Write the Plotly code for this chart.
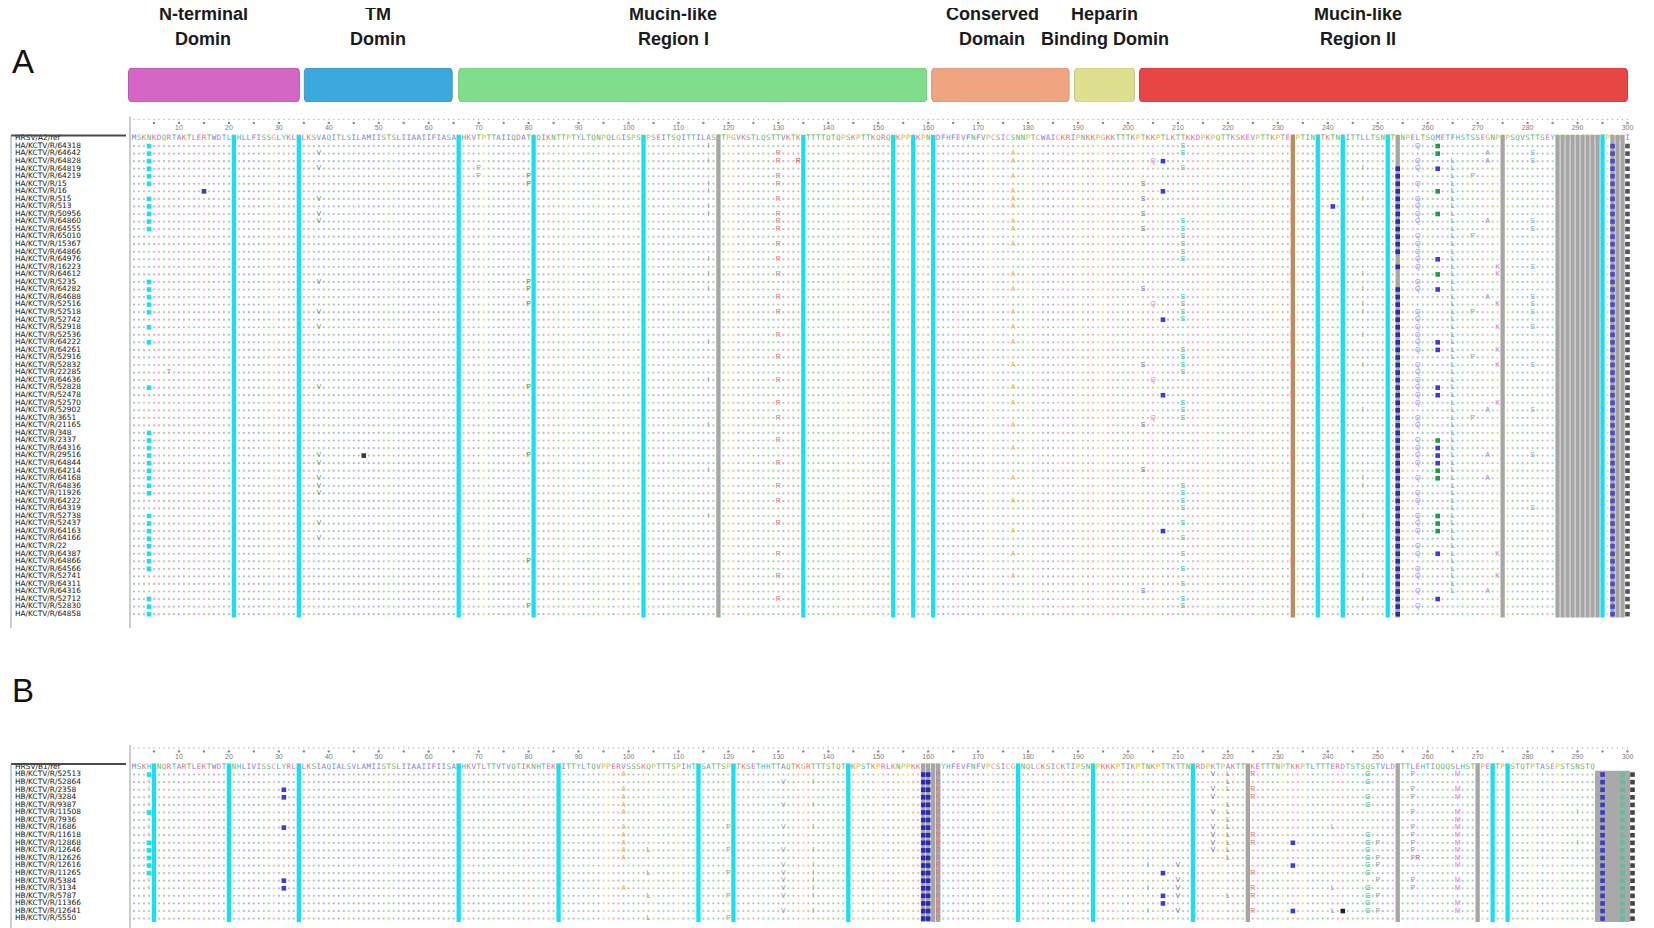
import plotly.graph_objects as go

W, H = 1654, 928

# ---------------------------------------------------------------
# data
# ---------------------------------------------------------------
# consensus sequences (one residue per alignment column)
SEQ_A = ("MSKNKDQRTAKTLERTWDTLNHLLFISSGLYKLNLKSVAQITLSILAMIISTSLIIAAII"
         "FIASANHKVTPTTAIIQDATSQIKNTTPTYLTQNPQLGISPSNPSEITSQITTILASTTP"
         "GVKSTLQSTTVKTKNTTTTQTQPSKPTTKQRQNKPPSKPNNDFHFEVFNFVPCSICSNNP"
         "TCWAICKRIPNKKPGKKTTTKPTKKPTLKTTKKDPKPQTTKSKEVPTTKPTEEPTINTTK"
         "TNIITTLLTSNTTGNPELTSQMETFHSTSSEGNPSPSQVSTTSEYPSQPSSPPNTPRQKI")
SEQ_B = ("MSKHKNQRTARTLEKTWDTLNHLIVISSCLYRLNLKSIAQIALSVLAMIISTSLIIAAII"
         "FIISANHKVTLTTVTVQTIKNHTEKNITTYLTQVPPERVSSSKQPTTTSPIHTNSATTSP"
         "NTKSETHHTTAQTKGRTTTSTQTNKPSTKPRLKNPPKKPKDDYHFEVFNFVPCSICGNNQ"
         "LCKSICKTIPSNKPKKKPTIKPTNKPTTKTTNKRDPKTPAKTTKKETTTNPTKKPTLTTT"
         "ERDTSTSQSTVLDTTTLEHTIQQQSLHSTTPENTPNSTQTPTASEPSTSNSTQ")

A_REF = "HRSV/A2/ref"
A_IDS = ("64318 64642 64828 64819 64219 15 16 515 513 50956 64860 64555 "
         "65010 15367 64866 64976 16223 64612 5235 64282 64688 52516 52518 "
         "52742 52918 52536 64222 64261 52916 52832 22285 64636 52828 52478 "
         "52570 52902 3651 21165 348 2337 64316 29516 64844 64214 64168 "
         "64836 11926 64222 64319 52738 52437 64163 64166 22 64387 64866 "
         "64566 52741 64311 64316 52712 52830 64858")
B_REF = "HRSV/B1/ref"
B_IDS = ("52513 52864 2358 3284 9387 11508 7936 1686 11618 12868 12646 "
         "12626 12616 11265 5384 3134 5787 11366 12641 5550")

# domain annotation (start / end column)
DOMAINS = ["N-terminal<br>Domin", "TM<br>Domin", "Mucin-like<br>Region I",
           "Conserved<br>Domain", "Heparin<br>Binding Domin", "Mucin-like<br>Region II"]
DOM_START = [-0.1, 35.1, 66.0, 160.7, 189.3, 202.3]
DOM_END = [34.1, 64.7, 159.7, 188.2, 201.3, 300.0]
DOM_LABEL_X = [14.9, 49.9, 109.0, 172.8, 195.3, 246.0]
DOM_COLOURS = ["#d466c6", "#3ba9dd", "#80dd8b", "#efa57f", "#dee08f", "#e84545"]
DOM_EDGES = ["#b65aab", "#3596c4", "#72c67c", "#d69372", "#c6c880", "#cf3d3d"]

# highlighted (conserved) columns
A_CYAN = [21, 34, 66, 81, 103, 135, 153, 157, 161, 238, 243, 252, 295]
A_GREY = [118, 254, 275, 286, 287, 288, 289, 290, 291, 292, 293, 294, 297, 298, 299]
A_BROWN = [233]
B_CYAN = [5, 20, 34, 66, 86, 114, 121, 144, 178, 193, 213, 273, 276]
B_GREY = [159, 160, 161, 162, 224, 254, 270]
B_BLOCK = [294, 295, 296, 297, 298, 299, 300]

# substitutions: (column, glyph, colour, rows); "sq" = filled cell
A_VARIANTS = [
    (4, "sq", "#19dff0", "1-6,8-12,19-23,25,27,33,39-47,50-57,61-63"),
    (8, "T", "#9090a8", "31"),
    (15, "sq", "#3a3ad6", "7"),
    (38, "V", "#4fa24f", "2,4,8,10,11,19,23,25,33,42,43,45,46,47,51,53"),
    (47, "sq", "#333333", "42"),
    (70, "P", "#9a9a9a", "4,5"),
    (80, "P", "#2f962f", "5,6,19,20,22,33,42,56,62"),
    (116, "!", "#4c9c4c", "1,3,6,7,9,10,16,18,20,27,32,38,44,50"),
    (130, "R", "#f06c7c", "2,3,5,6,8,10,11,12,14,16,18,21,23,26,29,32,35,37,40,43,46,48,51,55,58,61"),
    (134, "R", "#e04040", "3"),
    (177, "A", "#f0b03c", "2,3,5,7,8,9,11,12,14,18,20,23,25,27,30,33,35,38,41,45,48,52,55,58"),
    (203, "S", "#7070a0", "6,8,10,12,20,30,38,44,60"),
    (205, "Q", "#9a9ae8", "3,22,32,37"),
    (207, "sq", "#3a3ae0", "3,7,24,34,52"),
    (211, "S", "#2fc0a0", "1,2,4,11-16,21-24,28-31,35-37,46-49,51,53,55,57,59,61,62"),
    (233, "R", "#f06c7c", "1,6,8,10,11,13,15,18,19,24,26,27,30,34,42,56"),
    (241, "sq", "#3a3ae0", "9"),
    (247, "!", "#4c9c4c", "4,8,18,20,22,23,26,30,36,45,46,50,58,61"),
    (254, "sq", "#2a2ab8", "4-15,17,20-63"),
    (258, "Q", "#9a8ae0", "1,3,4,6,8-11,13-17,19,20,23-28,30-35,37,38,40-43,45,47,48,50-52,54,55,57,58,60,62"),
    (262, "sq", "#18a048", "1,2,7,10,18,40,44,45,50,51,52"),
    (262, "sq", "#3a3ae0", "4,16,20,27,28,33,34,41,42,43,55,61"),
    (265, "L", "#5aa86a", "3-60"),
    (269, "P", "#9a9a9a", "5,13,23,29,37"),
    (272, "A", "#8c8cd8", "2,3,11,21,36,42,45,60"),
    (274, "K", "#e070c8", "17,18,22,25,28,30,35,55,58"),
    (281, "S", "#80a8e0", "2,3,11,12,17,21,22,23,25,30,36,42,49"),
    (297, "sq", "#4a4ad0", "1-63"),
    (300, "sq", "#555555", "1-63"),
]
B_VARIANTS = [
    (4, "sq", "#19dff0", "1,6,10-14"),
    (4, "^", "#f080e0", "2-5,7-9,15,16"),
    (31, "sq", "#3a3ae0", "3,4,8,15,16"),
    (99, "A", "#f0b03c", "1,3-6,8-12,16"),
    (104, "L", "#9a9a9a", "11,14,17,20"),
    (120, "P", "#9a9a9a", "8,11,14,17,20"),
    (131, "V", "#9a9a9a", "2,5,8,11,13-17,19"),
    (137, "!", "#4c9c4c", "2,5,8,11,13-17,19"),
    (159, "sq", "#2a2ab8", "1-20"),
    (160, "sq", "#2a2ab8", "1-20"),
    (162, "R", "#f06c7c", "1-20"),
    (204, "!", "#4c9c4c", "13,16,19"),
    (207, "sq", "#3a3ae0", "14,17,18"),
    (210, "V", "#7070b0", "13,15,16,17,19"),
    (217, "V", "#6c6cd8", "1,3,4,6,8,9,10,11"),
    (220, "L", "#6a9a6a", "1-3,5-12,17"),
    (225, "R", "#f06c7c", "1,3,4,9,10,14,16,17,19"),
    (233, "sq", "#3a3ae0", "10,13,19"),
    (241, "L", "#9a9a9a", "8,16,19"),
    (243, "sq", "#222222", "19"),
    (248, "G", "#2fb080", "1,2,4,5,9-14,16-19"),
    (250, "P", "#9a9a9a", "10,12,13,15,17,19"),
    (257, "P", "#9a9a9a", "1,3,4,6,8-12,15,16"),
    (258, "R", "#e04040", "12"),
    (266, "M", "#f070f0", "1,3,4,6-13,15,16,18,19"),
    (290, "!", "#4c9c4c", "6,10"),
    (295, "sq", "#3c3cc8", "1-20"),
    (299, "sq", "#5cc0a0", "1-20"),
    (301, "sq", "#444444", "1-20"),
]

# residue colour classes (Clustal style)
CLASS_COLOURS = {
    "AILMFWV": "#7d7de8",
    "KR": "#ee6f6f",
    "DE": "#d56ad5",
    "NQST": "#5fb85f",
    "C": "#ee88aa",
    "G": "#eea040",
    "P": "#c9c23a",
    "HY": "#3fbfbf",
}

# ---------------------------------------------------------------
# geometry (pixels) -> axis ranges
# ---------------------------------------------------------------
COL0_PX, COL_PX = 121.0, 4.995
A_ROW0_PX, A_PITCH = 130.5, 7.55
B_ROW0_PX, B_PITCH = 759.0, 7.58
NAME_PX = 7


def residue_colour(aa):
    for group, colour in CLASS_COLOURS.items():
        if aa in group:
            return colour
    return "#999999"


def parse_rows(spec):
    rows = []
    for part in spec.split(","):
        if "-" in part:
            a, b = part.split("-")
            rows += list(range(int(a), int(b) + 1))
        else:
            rows.append(int(part))
    return rows


def px(x):
    return x / W


def py(y):
    return 1 - y / H


def add_panel(fig, seq, names, n_rows, yaxis, pitch, cyan, grey, brown, variants, block=None):
    base = dict(yaxis=yaxis, hoverinfo="skip", showlegend=False, cliponaxis=False)
    tick_line_row = -19 / pitch
    tick_lab_row = -10 / pitch

    # ruler
    n_cols = 300
    fig.add_trace(go.Scatter(x=list(range(1, n_cols + 1)), y=[tick_line_row] * n_cols,
                             mode="markers", marker=dict(size=1.6, color="#b8b8b8"), **base))
    fives = list(range(5, n_cols + 1, 5))
    fig.add_trace(go.Scatter(x=fives, y=[tick_line_row + 0.45] * len(fives), mode="markers",
                             marker=dict(size=2.4, color="#8a8a8a"), **base))
    tens = list(range(10, n_cols + 1, 10))
    fig.add_trace(go.Scatter(x=tens, y=[tick_lab_row] * len(tens), mode="text",
                             text=[str(t) for t in tens],
                             textfont=dict(size=7, color="#7a7a7a", family="Liberation Sans"),
                             **base))

    # identity dots
    groups = {}
    for c, aa in enumerate(seq, start=1):
        groups.setdefault(residue_colour(aa), []).append(c)
    for colour, cols in groups.items():
        xs, ys = [], []
        for r in range(1, n_rows + 1):
            xs += cols
            ys += [r] * len(cols)
        fig.add_trace(go.Scatter(x=xs, y=ys, mode="markers",
                                 marker=dict(size=2.2, color=colour, opacity=0.6), **base))

    # consensus row
    fig.add_trace(go.Scatter(x=list(range(1, len(seq) + 1)), y=[0] * len(seq), mode="text",
                             text=list(seq),
                             textfont=dict(size=7.5, family="DejaVu Sans Mono",
                                           color=[residue_colour(a) for a in seq]),
                             **base))

    # highlighted columns
    def columns(cols, colour, top, bottom, width=4.3):
        xs, ys = [], []
        for c in cols:
            xs += [c, c, None]
            ys += [top, bottom, None]
        fig.add_trace(go.Scatter(x=xs, y=ys, mode="lines",
                                 line=dict(color=colour, width=width), **base))

    columns(grey, "#a6a6a6", -0.45, n_rows + 0.45)
    columns(brown, "#b88f5c", -0.45, n_rows + 0.45)
    columns(cyan, "#19dff0", -0.45, n_rows + 0.45)
    if block:
        columns(block, "#a9a9a9", 0.5, n_rows + 0.45, width=5.2)

    # substitutions
    for col, glyph, colour, spec in variants:
        rows = parse_rows(spec)
        if glyph == "sq":
            fig.add_trace(go.Scatter(x=[col] * len(rows), y=rows, mode="markers",
                                     marker=dict(symbol="square", size=4.6, color=colour),
                                     **base))
        else:
            fig.add_trace(go.Scatter(x=[col] * len(rows), y=rows, mode="text",
                                     text=[glyph] * len(rows),
                                     textfont=dict(size=7, color=colour, family="Liberation Sans"),
                                     **base))

    # sequence names
    name_x = (NAME_PX - COL0_PX) / COL_PX
    fig.add_trace(go.Scatter(x=[name_x] * len(names), y=list(range(len(names))), mode="text",
                             text=names, textposition="middle right",
                             textfont=dict(size=7.4, color="#141414", family="DejaVu Sans"),
                             **base))


fig = go.Figure()

a_names = [A_REF] + [f"HA/KCTV/R/{n}" for n in A_IDS.split()]
b_names = [B_REF] + [f"HB/KCTV/R/{n}" for n in B_IDS.split()]
add_panel(fig, SEQ_A, a_names, len(a_names) - 1, "y", A_PITCH,
          A_CYAN, A_GREY, A_BROWN, A_VARIANTS)
add_panel(fig, SEQ_B, b_names, len(b_names) - 1, "y2", B_PITCH,
          B_CYAN, B_GREY, [], B_VARIANTS, block=B_BLOCK)

# domain bars
fig.add_trace(go.Bar(
    x=[e - s for s, e in zip(DOM_START, DOM_END)], base=DOM_START, y=[0] * len(DOM_START),
    orientation="h", width=1, yaxis="y3",
    marker=dict(color=DOM_COLOURS, line=dict(color=DOM_EDGES, width=1), cornerradius=4),
    hoverinfo="skip", showlegend=False,
))

annotations = []
for label, xc in zip(DOMAINS, DOM_LABEL_X):
    top, bottom = label.split("<br>")
    for text, ypx in ((top, 6), (bottom, 31)):
        annotations.append(dict(
            x=xc, xref="x", y=py(ypx), yref="paper", text=text, showarrow=False,
            xanchor="center", yanchor="middle",
            font=dict(size=18, family="Liberation Sans", color="#1a1a1a", weight="bold"),
        ))
for letter, ypx in (("A", 53), ("B", 682)):
    annotations.append(dict(
        x=px(2), xref="paper", y=py(ypx), yref="paper", text=letter, showarrow=False,
        xanchor="left", yanchor="middle",
        font=dict(size=33, family="Liberation Sans", color="#111111"),
    ))

shapes = []
# name boxes and alignment borders
for row0, bottom in ((A_ROW0_PX, 620), (B_ROW0_PX, 940)):
    top = row0 - 3
    shapes.append(dict(type="line", xref="paper", yref="paper", x0=px(3), x1=px(118),
                       y0=py(top), y1=py(top), line=dict(color="#4a4a4a", width=2)))
    shapes.append(dict(type="line", xref="paper", yref="paper", x0=px(3), x1=px(3),
                       y0=py(top), y1=py(bottom), line=dict(color="#9a9a9a", width=1)))
    shapes.append(dict(type="line", xref="paper", yref="paper", x0=px(122), x1=px(122),
                       y0=py(row0 - 22), y1=py(bottom), line=dict(color="#9a9a9a", width=1)))

fig.update_layout(
    width=W, height=H,
    margin=dict(l=0, r=0, t=0, b=0),
    paper_bgcolor="white", plot_bgcolor="rgba(0,0,0,0)",
    showlegend=False, barmode="overlay",
    xaxis=dict(range=[-COL0_PX / COL_PX, (W - COL0_PX) / COL_PX],
               visible=False, domain=[0, 1], anchor="y"),
    yaxis=dict(range=[(H - A_ROW0_PX) / A_PITCH, -A_ROW0_PX / A_PITCH],
               visible=False, domain=[0, 1]),
    yaxis2=dict(range=[(H - B_ROW0_PX) / B_PITCH, -B_ROW0_PX / B_PITCH],
                visible=False, overlaying="y"),
    yaxis3=dict(range=[-0.5, 0.5], visible=False, domain=[py(94), py(60)], anchor="x"),
    annotations=annotations,
    shapes=shapes,
)

fig.write_html("out.html")
